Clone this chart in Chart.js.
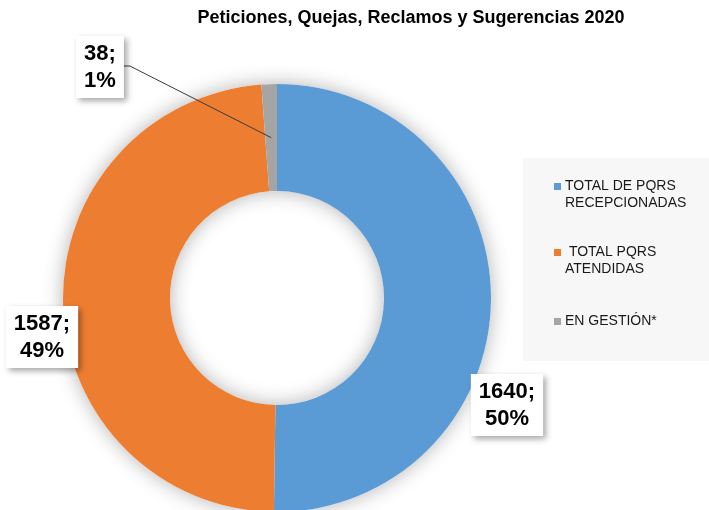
<!DOCTYPE html>
<html lang="es">
<head>
<meta charset="utf-8">
<title>PQRS 2020</title>
<script src="https://cdn.jsdelivr.net/npm/chart.js@4.4.0/dist/chart.umd.min.js"></script>
<style>
  html, body { margin: 0; padding: 0; background: #fff; }
  #wrap { position: relative; width: 709px; height: 510px; }
</style>
</head>
<body>
<div id="wrap"><canvas id="chart" width="709" height="510"></canvas></div>
<script>
/* Doughnut of PQRS 2020 — data kept small and at the top */

const TITLE = "Peticiones, Quejas, Reclamos y Sugerencias 2020";
const categories = [
  ["TOTAL DE PQRS", "RECEPCIONADAS"],
  [" TOTAL PQRS", "ATENDIDAS"],
  ["EN GESTIÓN*"],
];
const values = [1640, 1587, 38];
const colors = ["#5b9bd5", "#ed7d31", "#a5a5a5"];

const FONT = "'Liberation Sans', Arial, sans-serif";

// where each value label sits, relative to the doughnut centre (Excel-style dragged labels)
const labelOffsets = [
  { dx: 230, dy: 107 },
  { dx: -235, dy: 39 },
  { dx: -177, dy: -231 },
];

function pctText(v) {
  const total = values.reduce((a, b) => a + b, 0);
  return Math.round((v / total) * 100) + "%";
}

// soft glow under the ring, drawn before the slices so slices don't shade each other
const ringShadow = {
  id: "ringShadow",
  beforeDatasetsDraw(chart) {
    const arc = chart.getDatasetMeta(0).data[0];
    if (!arc) return;
    const { x, y, outerRadius, innerRadius } = arc.getProps(["x", "y", "outerRadius", "innerRadius"], true);
    const ctx = chart.ctx;
    ctx.save();
    ctx.beginPath();
    ctx.arc(x, y, outerRadius, 0, Math.PI * 2, false);
    ctx.arc(x, y, innerRadius, Math.PI * 2, 0, true);
    ctx.closePath();
    ctx.shadowColor = "rgba(0,0,0,0.3)";
    ctx.shadowBlur = 20;
    ctx.fillStyle = "#ffffff";
    ctx.fill();
    ctx.restore();
  },
};

// title, legend panel, value labels with boxes and the leader line
const decorations = {
  id: "decorations",
  afterDatasetsDraw(chart) {
    const ctx = chart.ctx;
    const meta = chart.getDatasetMeta(0);
    const first = meta.data[0];
    const cx = first.x;
    const cy = first.y;

    ctx.save();

    // title
    ctx.fillStyle = "#000";
    ctx.font = "bold 18px " + FONT;
    ctx.textAlign = "center";
    ctx.textBaseline = "middle";
    ctx.fillText(TITLE, 411, 18);

    // legend panel
    ctx.fillStyle = "#f7f7f7";
    ctx.fillRect(523, 158, 186, 203);
    const itemY = [186, 252, 321];
    ctx.font = "14px " + FONT;
    ctx.textAlign = "left";
    categories.forEach((lines, i) => {
      ctx.fillStyle = colors[i];
      ctx.fillRect(554, itemY[i] - 3, 7, 7);
      ctx.fillStyle = "#1a1a1a";
      lines.forEach((t, j) => ctx.fillText(t, 565, itemY[i] + j * 17));
    });

    // value labels
    ctx.font = "bold 22px " + FONT;
    values.forEach((v, i) => {
      const l1 = v + ";";
      const l2 = pctText(v);
      const w = Math.max(ctx.measureText(l1).width, ctx.measureText(l2).width) + 16;
      const h = 62;
      const bx = cx + labelOffsets[i].dx;
      const by = cy + labelOffsets[i].dy;

      if (i === 2) {
        // leader line from the box to the middle of its thin slice
        const p = meta.data[i].tooltipPosition(true);
        ctx.strokeStyle = "#3a3a3a";
        ctx.lineWidth = 1;
        ctx.beginPath();
        ctx.moveTo(bx + w / 2, by - 1);
        ctx.lineTo(bx + w / 2 + 6, by - 1);
        ctx.lineTo(p.x, p.y);
        ctx.stroke();
      }

      ctx.save();
      ctx.shadowColor = "rgba(0,0,0,0.35)";
      ctx.shadowBlur = 6;
      ctx.shadowOffsetX = 3;
      ctx.shadowOffsetY = 3;
      ctx.fillStyle = "#ffffff";
      ctx.fillRect(bx - w / 2, by - h / 2, w, h);
      ctx.restore();

      ctx.fillStyle = "#000";
      ctx.textAlign = "center";
      ctx.fillText(l1, bx, by - 13);
      ctx.fillText(l2, bx, by + 14);
    });

    ctx.restore();
  },
};

new Chart(document.getElementById("chart"), {
  type: "doughnut",
  data: {
    labels: categories.map((c) => c.join(" ").trim()),
    datasets: [
      {
        data: values,
        backgroundColor: colors,
        borderWidth: 0,
      },
    ],
  },
  options: {
    responsive: false,
    animation: false,
    radius: 214,
    cutout: "50%",
    layout: { padding: { left: 0, right: 155, top: 86, bottom: 0 } },
    plugins: {
      legend: { display: false },
      title: { display: false },
      tooltip: { enabled: false },
    },
  },
  plugins: [ringShadow, decorations],
});
</script>
</body>
</html>
